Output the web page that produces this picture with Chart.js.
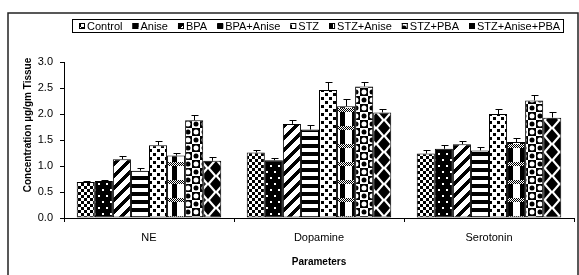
<!DOCTYPE html>
<html><head><meta charset="utf-8">
<script src="https://cdn.jsdelivr.net/npm/chart.js@4/dist/chart.umd.min.js"></script>
<style>html,body{margin:0;padding:0;background:#fff;}canvas{display:block;}</style>
</head><body>
<canvas id="c" width="579" height="275"></canvas>
<script>
const categories = ['NE', 'Dopamine', 'Serotonin'];
const seriesNames = ['Control', 'Anise', 'BPA', 'BPA+Anise', 'STZ', 'STZ+Anise', 'STZ+PBA', 'STZ+Anise+PBA'];
const control      = [0.69, 1.26, 1.24];
const anise        = [0.71, 1.11, 1.33];
const bpa          = [1.13, 1.81, 1.42];
const bpaAnise     = [0.91, 1.70, 1.30];
const stz          = [1.40, 2.46, 2.00];
const stzAnise     = [1.20, 2.15, 1.46];
const stzPba       = [1.88, 2.53, 2.26];
const stzAnisePba  = [1.10, 2.03, 1.93];
const controlErr     = [0.02, 0.05, 0.06];
const aniseErr       = [0.02, 0.05, 0.07];
const bpaErr         = [0.07, 0.07, 0.07];
const bpaAniseErr    = [0.06, 0.08, 0.07];
const stzErr         = [0.09, 0.15, 0.09];
const stzAniseErr    = [0.05, 0.13, 0.08];
const stzPbaErr      = [0.10, 0.08, 0.10];
const stzAnisePbaErr = [0.07, 0.07, 0.10];
const yTicks = [0, 0.5, 1.0, 1.5, 2.0, 2.5, 3.0];
const yTitle = 'Concentration µg/gm Tissue';
const xTitle = 'Parameters';

const values = [control, anise, bpa, bpaAnise, stz, stzAnise, stzPba, stzAnisePba];
const errors = [controlErr, aniseErr, bpaErr, bpaAniseErr, stzErr, stzAniseErr, stzPbaErr, stzAnisePbaErr];

function tile(w, h, draw) {
  const c = document.createElement('canvas'); c.width = w; c.height = h;
  const g = c.getContext('2d');
  g.fillStyle = '#fff'; g.fillRect(0, 0, w, h);
  g.fillStyle = '#000'; draw(g, w, h);
  return g.createPattern(c, 'repeat');
}
const patterns = [
  tile(6, 6, g => { g.fillRect(0, 0, 3, 3); g.fillRect(3, 3, 3, 3); }),
  tile(8, 12, g => { g.fillRect(0, 0, 8, 12); g.fillStyle = '#fff'; g.fillRect(2, 3, 2, 2); g.fillRect(6, 9, 2, 2); }),
  tile(12, 12, g => { for (let y = 0; y < 12; y++) for (let i = 0; i < 5; i++) g.fillRect((11 - y + i) % 12, y, 1, 1); }),
  tile(1, 8, g => { g.fillRect(0, 0, 1, 4); }),
  tile(8, 8, g => { g.fillRect(1, 1, 3, 3); g.fillRect(5, 5, 3, 3); }),
  tile(12, 18, g => {
    for (let y = 0; y < 4; y++) for (let x = 0; x < 12; x++) if ((x + y) % 2 === 0) g.fillRect(x, y, 1, 1);
    g.fillRect(4, 4, 5, 14);
  }),
  tile(16, 16, g => {
    g.fillRect(0, 0, 8, 8); g.fillRect(8, 8, 8, 8);
    const circ = (x, y, col) => { g.fillStyle = col; g.beginPath(); g.arc(x, y, 2.5, 0, Math.PI * 2); g.fill(); };
    circ(4, 4, '#fff'); circ(12, 12, '#fff'); circ(12, 4, '#000'); circ(4, 12, '#000');
  }),
  tile(16, 16, g => {
    const dia = (cx, cy) => { g.beginPath(); g.moveTo(cx, cy - 7); g.lineTo(cx + 6, cy); g.lineTo(cx, cy + 7); g.lineTo(cx - 6, cy); g.closePath(); g.fill(); };
    dia(8, 8); dia(0, 0); dia(16, 0); dia(0, 16); dia(16, 16);
  })
];

const FONT = 'Arial, "Liberation Sans", sans-serif';

const extras = {
  id: 'extras',
  beforeDraw(chart) {
    const ctx = chart.ctx;
    ctx.save();
    ctx.fillStyle = '#fff'; ctx.fillRect(0, 0, chart.width, chart.height);
    ctx.strokeStyle = '#222'; ctx.lineWidth = 1.5;
    ctx.strokeRect(8, 13, 570, 280);
    ctx.restore();
  },
  afterDatasetsDraw(chart) {
    const ctx = chart.ctx, ys = chart.scales.y;
    ctx.save();
    ctx.strokeStyle = '#000'; ctx.lineWidth = 1;
    chart.data.datasets.forEach((ds, di) => {
      const meta = chart.getDatasetMeta(di);
      meta.data.forEach((el, i) => {
        const v = ds.data[i], e = errors[di][i];
        const x = Math.round(el.x) + 0.5;
        const y0 = ys.getPixelForValue(v), y1 = Math.round(ys.getPixelForValue(v + e)) + 0.5;
        ctx.beginPath();
        ctx.moveTo(x, y0); ctx.lineTo(x, y1);
        ctx.moveTo(x - 3, y1); ctx.lineTo(x + 4, y1);
        ctx.stroke();
      });
    });
    ctx.restore();
  },
  afterDraw(chart) {
    const ctx = chart.ctx;
    ctx.save();
    ctx.fillStyle = '#000';
    ctx.font = 'bold 10px ' + FONT;
    ctx.textAlign = 'center'; ctx.textBaseline = 'middle';
    ctx.translate(28, 125); ctx.rotate(-Math.PI / 2);
    ctx.fillText(yTitle, 0, 0);
    ctx.restore();
    ctx.save();
    ctx.strokeStyle = '#000'; ctx.lineWidth = 1;
    ctx.strokeRect(72.5, 19.5, 491, 13);
    ctx.font = '11px ' + FONT;
    ctx.textBaseline = 'middle'; ctx.textAlign = 'left';
    let x = 79;
    chart.data.datasets.forEach((ds, di) => {
      ctx.fillStyle = ds.backgroundColor;
      ctx.fillRect(x, 23, 6, 6);
      ctx.strokeRect(x + 0.5, 23.5, 5, 5);
      ctx.fillStyle = '#000';
      ctx.fillText(ds.label, x + 8, 26.5);
      x += 8 + ctx.measureText(ds.label).width + 10;
    });
    ctx.restore();
  }
};

new Chart(document.getElementById('c'), {
  type: 'bar',
  data: {
    labels: categories,
    datasets: seriesNames.map((n, i) => ({
      label: n, data: values[i], backgroundColor: patterns[i],
      borderColor: '#000', borderWidth: 1, borderSkipped: false,
      categoryPercentage: 0.85, barPercentage: 1.0
    }))
  },
  options: {
    responsive: false, animation: false, devicePixelRatio: 1,
    layout: { padding: { top: 62, right: 5, left: 0, bottom: 0 } },
    plugins: { legend: { display: false }, tooltip: { enabled: false } },
    scales: {
      x: {
        afterFit: s => { s.height = 57; },
        grid: { drawOnChartArea: false, drawTicks: true, tickLength: 4, color: '#000', offset: true },
        border: { display: true, color: '#000', width: 1 },
        ticks: { color: '#000', font: { family: FONT, size: 11 }, padding: 9 },
        title: { display: true, text: xTitle, color: '#000', font: { family: FONT, size: 10, weight: 'bold' }, padding: { top: 8, bottom: 7 } }
      },
      y: {
        min: 0, max: 3,
        afterFit: s => { s.width = 64; },
        afterBuildTicks: s => { s.ticks = yTicks.map(v => ({ value: v })); },
        grid: { drawOnChartArea: false, drawTicks: true, tickLength: 4, color: '#000' },
        border: { display: true, color: '#000', width: 1 },
        ticks: { color: '#000', font: { family: FONT, size: 11 }, padding: 7, callback: v => Number(v).toFixed(1) }
      }
    }
  },
  plugins: [extras]
});
</script>
</body></html>
